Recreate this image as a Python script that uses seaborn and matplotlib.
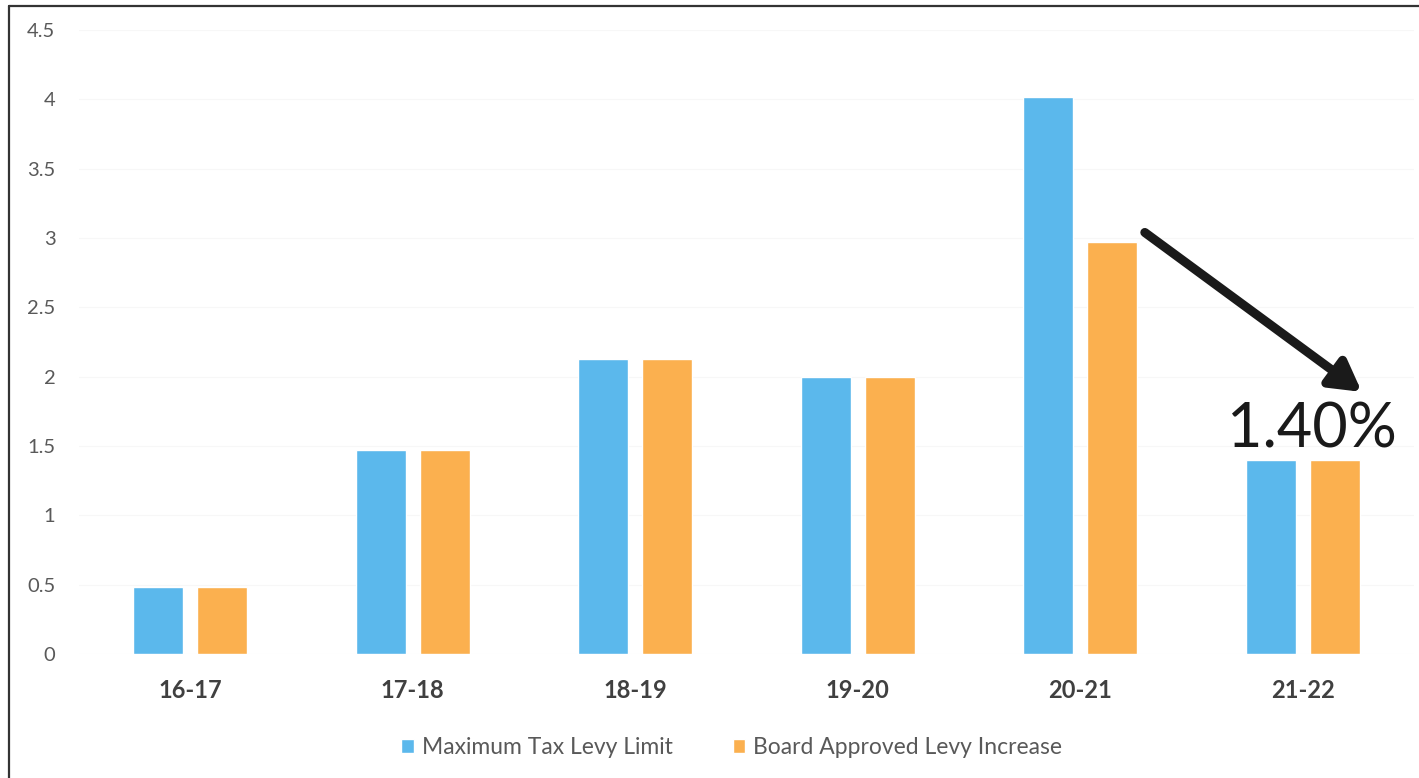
import matplotlib
matplotlib.use("Agg")
import matplotlib.pyplot as plt
from matplotlib.lines import Line2D
import seaborn as sns
import pandas as pd

# Levy data (percent)
years = ["16-17", "17-18", "18-19", "19-20", "20-21", "21-22"]
max_levy_limit = [0.48, 1.47, 2.13, 2.0, 4.02, 1.4]
board_approved = [0.48, 1.47, 2.13, 2.0, 2.97, 1.4]
series_names = ["Maximum Tax Levy Limit", "Board Approved Levy Increase"]
yticks = [0, 0.5, 1, 1.5, 2, 2.5, 3, 3.5, 4, 4.5]

df = pd.DataFrame({
    "year": years * 2,
    "value": max_levy_limit + board_approved,
    "series": [series_names[0]] * len(years) + [series_names[1]] * len(years),
})

sns.set_theme(style="white")
plt.rcParams["font.family"] = ["Lato", "DejaVu Sans"]

fig = plt.figure(figsize=(14.19, 7.78), dpi=100)
ax = fig.add_axes([0.0557, 0.1594, 0.9408, 0.802])

palette = {series_names[0]: "#5BB8EC", series_names[1]: "#FBB04F"}
sns.barplot(data=df, x="year", y="value", hue="series", palette=palette,
            width=0.575, gap=0.22, saturation=1, ax=ax, legend=True)

ax.set_ylim(0, 4.5)
ax.set_xlim(-0.5, 5.5)
ax.set_yticks(yticks)
ax.set_yticklabels([f"{t:g}" for t in yticks])
ax.yaxis.grid(True, color="#f7f7f7", linewidth=0.8)
ax.set_axisbelow(True)
for s in ax.spines.values():
    s.set_visible(False)
ax.set_xlabel("")
ax.set_ylabel("")
ax.tick_params(axis="y", labelsize=14.5, colors="#595959", length=0, pad=17)
ax.tick_params(axis="x", labelsize=17, colors="#404040", length=0, pad=18)
for lab in ax.get_xticklabels():
    lab.set_fontweight("bold")

# Legend below the axis
handles, labels = ax.get_legend_handles_labels()
ax.legend(handles, labels, loc="center", bbox_to_anchor=(0.489, -0.15),
          ncol=2, frameon=False, fontsize=16.5, labelcolor="#595959",
          handlelength=0.55, handleheight=0.55, handletextpad=0.35,
          columnspacing=2.6)

# Highlight the drop to the 21-22 levy
ax.annotate("", xy=(5.265, 1.89), xytext=(4.29, 3.04),
            arrowprops=dict(arrowstyle="-|>,head_length=1.5,head_width=0.85",
                            color="#1a1a1a", lw=6.5, shrinkA=0, shrinkB=0))
ax.text(5.04, 1.49, f"{board_approved[-1]:.2f}%", ha="center", va="baseline",
        fontsize=44, color="#1a1a1a")

# Outer frame
fig.add_artist(Line2D([9 / 1419, 9 / 1419], [0, 1 - 6 / 778],
                      transform=fig.transFigure, color="#333333", lw=1.6))
fig.add_artist(Line2D([9 / 1419, 1], [1 - 6 / 778, 1 - 6 / 778],
                      transform=fig.transFigure, color="#333333", lw=1.6))

fig.savefig("out.png", dpi=100)
